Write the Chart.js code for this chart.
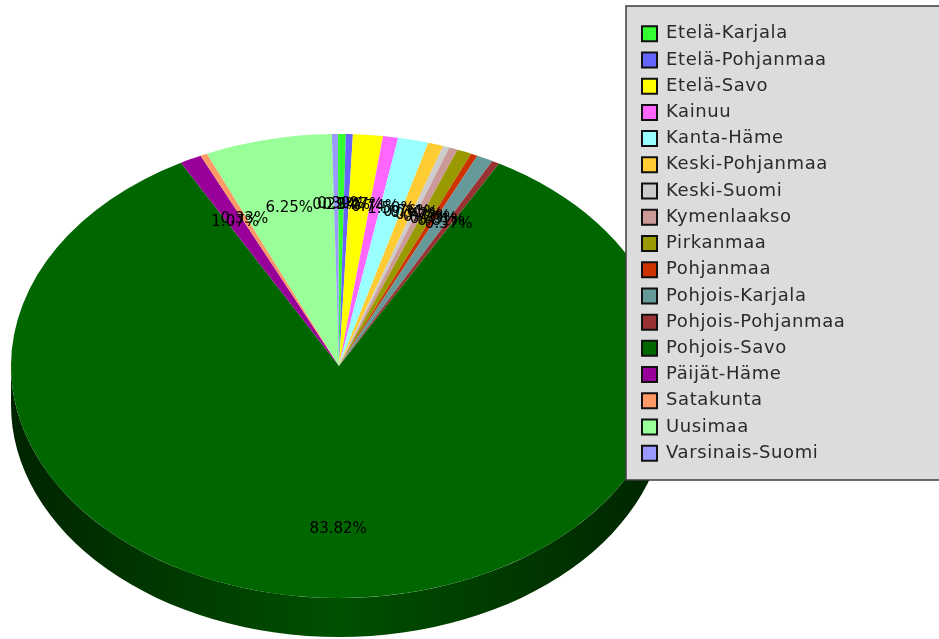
<!DOCTYPE html>
<html><head><meta charset="utf-8">
<style>html,body{margin:0;padding:0;background:#fff}canvas{display:block}</style>
<script src="https://cdn.jsdelivr.net/npm/chart.js@4"></script>
</head><body><canvas id="c" width="939" height="639"></canvas>
<script>
const categories = ["Etelä-Karjala","Etelä-Pohjanmaa","Etelä-Savo","Kainuu","Kanta-Häme","Keski-Pohjanmaa","Keski-Suomi","Kymenlaakso","Pirkanmaa","Pohjanmaa","Pohjois-Karjala","Pohjois-Pohjanmaa","Pohjois-Savo","Päijät-Häme","Satakunta","Uusimaa","Varsinais-Suomi"];
const shares = [0.39,0.34,1.47,0.74,1.50,0.76,0.31,0.42,0.72,0.33,0.81,0.37,83.82,1.07,0.33,6.25,0.29];
const colours = ["#33FF33","#6666FF","#FFFF00","#FF66FF","#99FFFF","#FFCC33","#CCCCCC","#CC9999","#999900","#CC3300","#669999","#993333","#006600","#990099","#FF9966","#99FF99","#9999FF"];

const ELL = {cx:339, cy:366, rx:328, ry:232, depth:39, labelAt:0.70};
const BOX = {x:626, y:6, w:330, h:474};

function shade(hex,f){
  const n=parseInt(hex.slice(1),16);
  return `rgb(${Math.round((n>>16&255)*f)},${Math.round((n>>8&255)*f)},${Math.round((n&255)*f)})`;
}
const pie3d = {
  id:'pie3d',
  beforeDraw(chart){
    const c=chart.ctx;
    c.save();
    c.fillStyle='#fff'; c.fillRect(0,0,chart.width,chart.height);
    c.restore();
  },
  afterLayout(chart){
    chart.legend.left = BOX.x + 7.8;
    chart.legend.top = BOX.y + 10.5;
    chart.legend.right = chart.width;
  },
  beforeDatasetsDraw(chart){
    const c=chart.ctx, arcs=chart.getDatasetMeta(0).data;
    c.save();
    arcs.forEach((a,i)=>{
      const s=Math.max(a.startAngle,0), e=Math.min(a.endAngle,Math.PI);
      if(e<=s) return;
      const g=c.createLinearGradient(ELL.cx-ELL.rx,0,ELL.cx+ELL.rx,0);
      g.addColorStop(0,shade(colours[i],0.35));
      g.addColorStop(0.5,shade(colours[i],0.78));
      g.addColorStop(1,shade(colours[i],0.35));
      c.beginPath();
      c.ellipse(ELL.cx,ELL.cy,ELL.rx,ELL.ry,0,s,e);
      c.ellipse(ELL.cx,ELL.cy+ELL.depth,ELL.rx,ELL.ry,0,e,s,true);
      c.closePath();
      c.fillStyle=g; c.fill();
    });
    c.restore();
    const a0=arcs[0], r0=a0.outerRadius;
    c.save();
    c.translate(ELL.cx,ELL.cy);
    c.scale(ELL.rx/r0,ELL.ry/r0);
    c.translate(-a0.x,-a0.y);
  },
  afterDatasetsDraw(chart){
    const c=chart.ctx, arcs=chart.getDatasetMeta(0).data;
    c.restore();
    c.save();
    c.fillStyle='#000';
    c.font='15px "DejaVu Sans"';
    c.textAlign='center'; c.textBaseline='middle';
    arcs.forEach((a,i)=>{
      const m=(a.startAngle+a.endAngle)/2;
      c.fillText(shares[i].toFixed(2)+'%',
        ELL.cx+Math.cos(m)*ELL.rx*ELL.labelAt,
        ELL.cy+1+Math.sin(m)*ELL.ry*ELL.labelAt);
    });
    c.fillStyle='#dcdcdc'; c.strokeStyle='#3c3c3c'; c.lineWidth=1.5;
    c.fillRect(BOX.x,BOX.y,BOX.w,BOX.h);
    c.strokeRect(BOX.x,BOX.y,BOX.w,BOX.h);
    c.restore();
    c.save();
    c.letterSpacing='0.6px';
    chart.legend.draw();
    c.restore();
  }
};
new Chart(document.getElementById('c'),{
  type:'pie',
  data:{labels:categories,datasets:[{data:shares,backgroundColor:colours,borderWidth:0}]},
  options:{
    responsive:false,animation:false,rotation:-0.2,
    layout:{padding:{top:10,bottom:10}},
    plugins:{
      tooltip:{enabled:false},
      legend:{
        position:'right',align:'start',
        labels:{
          boxWidth:15,boxHeight:15,padding:8.22,color:'#2a2a2a',
          font:{family:'"DejaVu Sans"',size:18},
          generateLabels(chart){
            return Chart.overrides.pie.plugins.legend.labels.generateLabels(chart).map(it=>({...it,strokeStyle:'#111111',lineWidth:2}));
          }
        }
      }
    }
  },
  plugins:[pie3d]
});
</script></body></html>
